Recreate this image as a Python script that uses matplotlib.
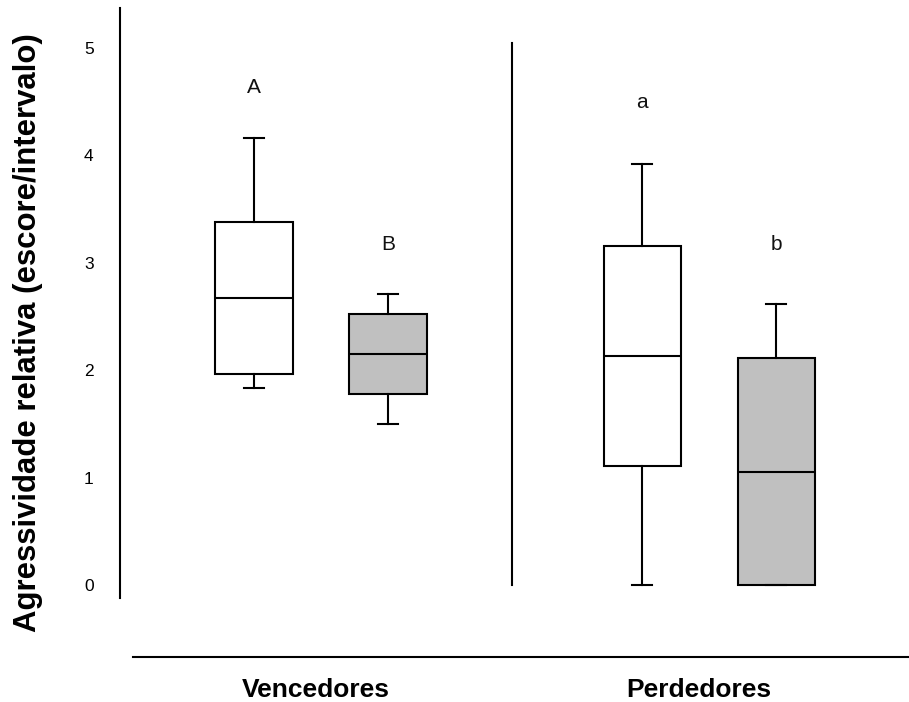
import matplotlib
matplotlib.use("Agg")
import matplotlib.pyplot as plt

# Box statistics (relative aggression, score/interval)
groups = ["Vencedores", "Perdedores"]
box_labels = ["A", "B", "a", "b"]
whisker_low = [1.83, 1.50, 0.00, 0.00]
q1 = [1.96, 1.78, 1.11, 0.00]
median = [2.67, 2.15, 2.13, 1.05]
q3 = [3.38, 2.52, 3.16, 2.11]
whisker_high = [4.16, 2.71, 3.92, 2.62]
letter_y = [4.63, 3.17, 4.49, 3.17]
box_colors = ["white", "#c0c0c0", "white", "#c0c0c0"]
positions = [1.0, 2.0, 3.9, 4.9]
group_x = [1.46, 4.32]
y_ticks = [0, 1, 2, 3, 4, 5]

fig = plt.figure(figsize=(9.09, 7.02), dpi=100)
ax = fig.add_axes([120 / 909, 0.01368, 1 - 120 / 909, 0.9792])

stats = []
for lo, a, m, b, hi in zip(whisker_low, q1, median, q3, whisker_high):
    stats.append(dict(whislo=lo, q1=a, med=m, q3=b, whishi=hi, fliers=[]))

lw = 1.5
bp = ax.bxp(stats, positions=positions, widths=0.58, patch_artist=True,
            showfliers=False, capwidths=0.15,
            boxprops=dict(linewidth=lw, edgecolor="black"),
            medianprops=dict(color="black", linewidth=lw),
            whiskerprops=dict(color="black", linewidth=lw),
            capprops=dict(color="black", linewidth=lw))
for patch, c in zip(bp["boxes"], box_colors):
    patch.set_facecolor(c)

# significance letters above each box
for x, y, t in zip(positions, letter_y, box_labels):
    ax.text(x, y, t, ha="center", va="center", fontsize=15,
            family="Liberation Sans", color="#111111")

# vertical divider between the two groups
ax.plot([2.93, 2.93], [0.0, 5.05], color="black", linewidth=lw)

ax.set_xlim(0, 5.89)
ax.set_ylim(-1.0, 5.4)

for s in ["top", "right"]:
    ax.spines[s].set_visible(False)
ax.spines["left"].set_bounds(-0.12, 5.37)
ax.spines["left"].set_linewidth(lw)
ax.spines["bottom"].set_position(("data", -0.67))
ax.spines["bottom"].set_bounds(0.097, 5.89)
ax.spines["bottom"].set_linewidth(lw)

ax.set_yticks(y_ticks)
ax.set_yticklabels([str(v) for v in y_ticks], fontsize=12.5,
                   family="Liberation Sans")
ax.tick_params(axis="y", length=0, pad=19)
ax.set_xticks([])

for x, t in zip(group_x, groups):
    ax.text(x, -0.98, t, ha="center", va="center", fontsize=19,
            fontweight="bold",
            family=["Liberation Sans Narrow", "Liberation Sans"])

fig.text(28 / 909, (702 - 333) / 702,
         "Agressividade relativa (escore/intervalo)",
         rotation=90, ha="center", va="center", fontsize=22.4,
         fontweight="bold", family="Liberation Sans")

fig.savefig("out.png", dpi=100)
